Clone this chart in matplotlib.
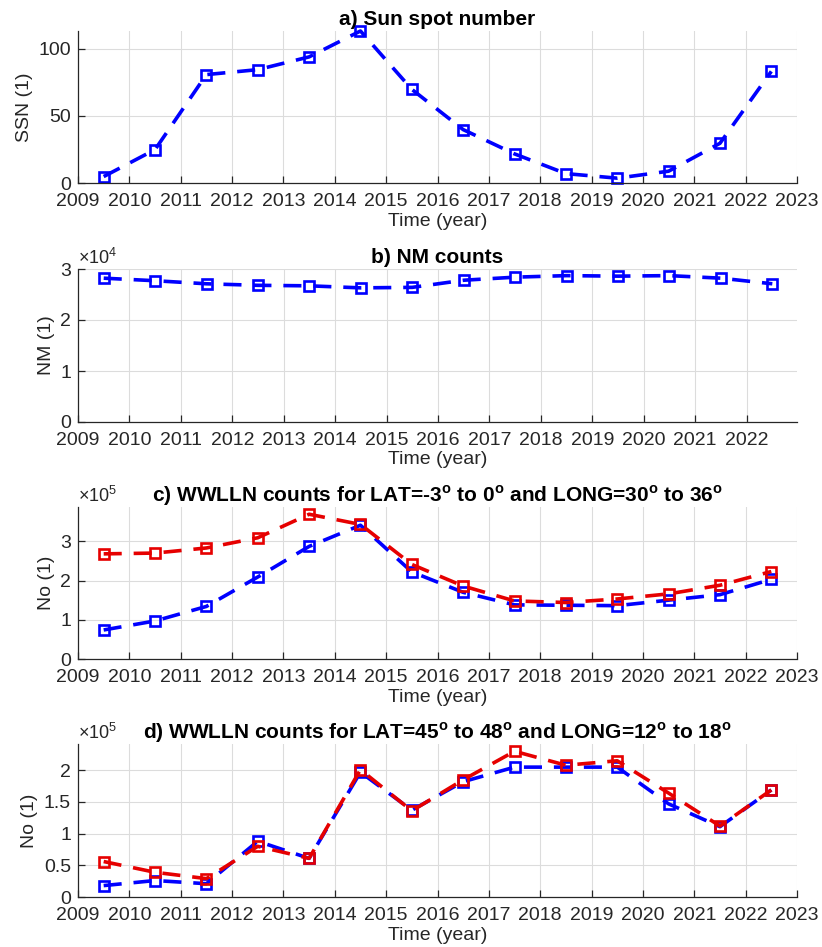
#!/usr/bin/env python3
"""Four stacked yearly series: sunspot number, neutron monitor and WWLLN counts."""

import matplotlib as mpl

mpl.use("Agg")

import matplotlib.pyplot as plt
from matplotlib.ticker import FuncFormatter

YEARS = [2009.5, 2010.5, 2011.5, 2012.5, 2013.5, 2014.5, 2015.5,
         2016.5, 2017.5, 2018.5, 2019.5, 2020.5, 2021.5, 2022.5]
SSN = [4.8, 24.9, 80.8, 84.5, 94.0, 113.3, 69.8, 39.8, 21.7, 7.0, 3.6, 8.8, 29.6, 83.2]
NM = [28200, 27700, 27100, 26800, 26700, 26300, 26400,
      27800, 28400, 28700, 28600, 28700, 28200, 27100]
WWLLN_C_BLUE = [74000, 97000, 134000, 209000, 287000, 341000, 222000,
                170000, 138000, 137000, 136000, 150000, 164000, 203000]
WWLLN_C_RED = [268000, 270000, 283000, 309000, 369000, 343000, 241000,
               186000, 148000, 144000, 153000, 166000, 188000, 223000]
WWLLN_D_BLUE = [18000, 26000, 21000, 88000, 61000, 197000, 137000,
                182000, 205000, 205000, 205000, 147000, 111000, 169000]
WWLLN_D_RED = [56000, 39000, 29000, 80000, 61000, 201000, 136000,
               185000, 230000, 208000, 215000, 164000, 112000, 169000]

XTICKS_FULL = list(range(2009, 2024))
XTICKS_NM = list(range(2009, 2023))

TITLES = [
    "a) Sun spot number",
    "b) NM counts",
    r"c) WWLLN counts for LAT=-3$^{\mathbf{o}}$ to 0$^{\mathbf{o}}$ and LONG=30$^{\mathbf{o}}$ to 36$^{\mathbf{o}}$",
    r"d) WWLLN counts for LAT=45$^{\mathbf{o}}$ to 48$^{\mathbf{o}}$ and LONG=12$^{\mathbf{o}}$ to 18$^{\mathbf{o}}$",
]

plt.rcParams["font.family"] = ["Liberation Sans", "DejaVu Sans"]
plt.rcParams["mathtext.fontset"] = "custom"
plt.rcParams["mathtext.rm"] = "Liberation Sans"
plt.rcParams["mathtext.bf"] = "Liberation Sans:bold"

TEXT = "#262626"
LINE = dict(linestyle=(0, (5, 3.3)), linewidth=2.6, marker="s", markersize=6.8,
            markeredgewidth=1.9, markerfacecolor="none", clip_on=False)


def style(ax, xticks, xmax):
    ax.set_xlim(2009, xmax)
    ax.set_xticks(xticks)
    ax.grid(True, color="#dcdcdc", linewidth=0.8)
    ax.set_axisbelow(True)
    for side in ("top", "right"):
        ax.spines[side].set_visible(False)
    for side in ("left", "bottom"):
        ax.spines[side].set_color(TEXT)
        ax.spines[side].set_linewidth(0.9)
    ax.tick_params(direction="in", length=5, width=0.9, colors=TEXT, labelsize=14, pad=5)
    ax.tick_params(axis="x", pad=7)
    ax.set_xlabel("Time (year)", fontsize=14, color=TEXT, labelpad=2)


def scaled(ax, power):
    factor = 10.0 ** power
    ax.yaxis.set_major_formatter(FuncFormatter(lambda v, _: f"{v / factor:g}"))
    ax.text(0.0, 1.005, r"$\times$10$^{%d}$" % power, transform=ax.transAxes,
            ha="left", va="bottom", fontsize=13, color=TEXT)


fig = plt.figure(figsize=(8.22, 9.47), dpi=100)
left, width = 78 / 822, 719 / 822
tops = [31, 269, 507, 744]
bottoms = [183, 422, 659, 897]
axes = [fig.add_axes([left, 1 - b / 947, width, (b - t) / 947]) for t, b in zip(tops, bottoms)]

ax = axes[0]
ax.plot(YEARS, SSN, color="b", **LINE)
style(ax, XTICKS_FULL, 2023)
ax.set_ylim(0, max(SSN))
ax.set_yticks([0, 50, 100])
ax.set_ylabel("SSN (1)", fontsize=14, color=TEXT)

ax = axes[1]
ax.plot(YEARS, NM, color="b", **LINE)
style(ax, XTICKS_NM, 2022.98)
ax.set_ylim(0, 30000)
ax.set_yticks([0, 10000, 20000, 30000])
scaled(ax, 4)
ax.set_ylabel("NM (1)", fontsize=14, color=TEXT)

for ax, blue, red, ticks in ((axes[2], WWLLN_C_BLUE, WWLLN_C_RED, [0, 1e5, 2e5, 3e5]),
                              (axes[3], WWLLN_D_BLUE, WWLLN_D_RED, [0, 0.5e5, 1e5, 1.5e5, 2e5])):
    ax.plot(YEARS, blue, color="b", **LINE)
    ax.plot(YEARS, red, color="#e60000", **LINE)
    style(ax, XTICKS_FULL, 2023)
    ax.set_ylim(0, 1.05 * max(red))
    ax.set_yticks(ticks)
    scaled(ax, 5)
    ax.set_ylabel("No (1)", fontsize=14, color=TEXT)

for ax, title in zip(axes, TITLES):
    ax.set_title(title, fontsize=15, fontweight="bold", color="black", y=1.0, pad=4)

fig.savefig("out.png", dpi=100, facecolor="white")
